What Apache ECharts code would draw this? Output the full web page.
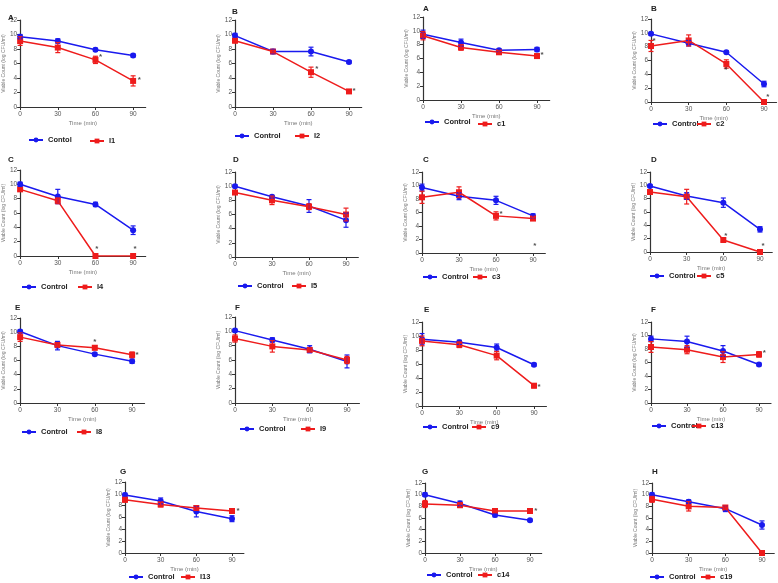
<!DOCTYPE html>
<html><head><meta charset="utf-8">
<script src="https://cdn.jsdelivr.net/npm/echarts@6/dist/echarts.min.js"></script>
<style>html,body{margin:0;padding:0;background:#fff}#c{width:778px;height:583px}</style>
</head><body><div id="c"></div>
<script>
// ---- data ----
const times = [0, 30, 60, 90];
const xTicks = [0, 30, 60, 90];
const yTicks = [0, 2, 4, 6, 8, 10, 12];
const panelLetters = ['A','B','A','B','C','D','C','D','E','F','E','F','G','G','H'];
const controlNames = ['Contol','Control','Control','Control','Control','Control','Control','Control','Control','Control','Control','Control','Control','Control','Control'];
const treatNames = ['I1','I2','c1','c2','I4','I5','c3','c5','I8','I9','c9','c13','I13','c14','c19'];
const controlValues = [
  [9.7, 9.1, 7.9, 7.1],
  [9.85, 7.65, 7.65, 6.2],
  [9.5, 8.3, 7.2, 7.3],
  [9.85, 8.5, 7.2, 2.6],
  [10.0, 8.3, 7.2, 3.6],
  [10.0, 8.5, 7.2, 5.2],
  [9.7, 8.4, 7.8, 5.5],
  [9.9, 8.4, 7.4, 3.4],
  [10.1, 8.1, 6.9, 5.9],
  [10.1, 8.8, 7.5, 5.8],
  [9.55, 9.1, 8.35, 5.9],
  [9.5, 9.1, 7.7, 5.7],
  [9.8, 8.8, 7.0, 5.8],
  [10.0, 8.5, 6.5, 5.6],
  [10.0, 8.8, 7.6, 4.8]
];
const treatValues = [
  [9.1, 8.2, 6.5, 3.6],
  [9.15, 7.65, 4.8, 2.15],
  [9.3, 7.6, 6.9, 6.35],
  [8.1, 8.9, 5.5, 0],
  [9.3, 7.7, 0, 0],
  [9.1, 8.0, 7.1, 6.0],
  [8.25, 9.0, 5.5, 5.1],
  [9.0, 8.3, 1.8, 0],
  [9.3, 8.2, 7.8, 6.8],
  [9.0, 7.9, 7.4, 6.0],
  [9.3, 8.75, 7.2, 2.9],
  [8.3, 7.9, 6.8, 7.2],
  [9.0, 8.2, 7.6, 7.1],
  [8.4, 8.2, 7.2, 7.2],
  [9.2, 8.0, 7.8, 0]
];
const controlErr = [
  [0.3,0.3,0.2,0.2],[0.3,0.3,0.6,0.2],[0.6,0.5,0.2,0.3],[0.2,0.4,0.2,0.4],
  [0.3,1.0,0.3,0.6],[0.2,0.2,0.9,1.0],[0.5,0.5,0.6,0.3],[0.2,0.5,0.7,0.4],
  [0.2,0.6,0.2,0.3],[0.2,0.3,0.5,0.9],[0.8,0.3,0.5,0.2],[0.4,0.8,0.8,0.2],
  [0.3,0.5,0.9,0.5],[0.3,0.4,0.3,0.2],[0.3,0.3,0.5,0.7]
];
const treatErr = [
  [0.6,0.7,0.5,0.7],[0.3,0.2,0.7,0.2],[0.6,0.4,0.2,0.3],[0.8,0.8,0.6,0.1],
  [0.2,0.4,0,0],[0.2,0.6,0.4,0.9],[0.9,0.8,0.6,0.2],[0.2,1.1,0.2,0],
  [0.6,0.3,0.3,0.4],[0.5,0.8,0.3,0.5],[0.7,0.4,0.6,0.3],[0.8,0.6,0.8,0.4],
  [0.4,0.4,0.4,0.2],[0.6,0.4,0.3,0.2],[0.5,0.8,0.3,0.2]
];
const starPoints = [
  [[64,6.9],[95,3.7]],
  [[64.5,5.3],[94,2.2]],
  [[94,6.5]],
  [[2.5,8.9],[59.5,4.7],[93,0.7]],
  [[61,1.0],[91.5,1.0]],
  [],
  [[64,5.8],[91.5,1.1]],
  [[62,2.4],[92.5,0.9]],
  [[60,8.7],[94,6.8]],
  [],
  [[94,2.8]],
  [[94.5,7.4]],
  [[95,7.2]],
  [[95,7.3]],
  []
];
// ---- layout: [x0, y12, x90, y0] ----
const geom = [
  [19,20,133,107],[235,20,349,107],[423,17,537,100],[651,19,764,102],
  [19,170,133,256],[235,172,346,257],[422,172,533,253],[650,172,760,252],
  [19,318,132,403],[235,317,347,403],[422,322,534,406],[651,322,759,403],
  [125,482,232,553],[425,483,530,553],[652,483,762,553]
];
const letterPos = [
  [3,9],[227,3],[418,0],[646,0],[3,151],[228,151],[418,151],[646,151],
  [10,299],[230,299],[419,301],[646,301],[115,463],[417,463],[647,463]
];
// legend: [blueLeft, blueY, redLeft, redY]
const legPos = [
  [28,140,89,141],[234,136,294,136],[424,122,477,124],[652,124,696,124],
  [21,287,77,287],[237,286,291,286],[422,277,472,277],[649,276,696,276],
  [21,432,76,432],[239,429,300,429],[422,427,471,427],[651,426,691,426],
  [128,577,180,577],[426,575,477,575],[649,577,700,577]
];

const BLUE = '#1a1aee', RED = '#ee1c1c';
const grids=[], xAxes=[], yAxes=[], series=[], titles=[], legends=[];

function errSeries(p, vals, errs, color){
  return {
    type:'custom', xAxisIndex:p, yAxisIndex:p, z:4, silent:true,
    data: times.map((t,i)=>[t, vals[i], errs[i]]),
    renderItem: function(params, api){
      const x=api.value(0), y=api.value(1), e=api.value(2);
      if(!e) return null;
      const top=api.coord([x, y+e]), bot=api.coord([x, Math.max(0,y-e)]);
      const w=2.5, st={stroke:color, lineWidth:1.2};
      return {type:'group', children:[
        {type:'line', shape:{x1:top[0],y1:top[1],x2:bot[0],y2:bot[1]}, style:st},
        {type:'line', shape:{x1:top[0]-w,y1:top[1],x2:top[0]+w,y2:top[1]}, style:st},
        {type:'line', shape:{x1:bot[0]-w,y1:bot[1],x2:bot[0]+w,y2:bot[1]}, style:st}
      ]};
    }
  };
}

geom.forEach((g,p)=>{
  const [x0,y12,x90,y0]=g;
  grids.push({left:x0, top:y12, width:(x90-x0)*100/90, height:y0-y12, containLabel:false});
  xAxes.push({
    gridIndex:p, type:'value', min:0, max:100,
    name:'Time (min)', nameLocation:'middle', nameGap:13,
    nameTextStyle:{fontSize:6, color:'#777', fontFamily:'Liberation Sans'},
    axisLine:{show:true, onZero:false, lineStyle:{color:'#333', width:1.2}},
    axisTick:{show:true, length:3, customValues:xTicks, lineStyle:{color:'#333'}},
    axisLabel:{customValues:xTicks, fontSize:6.5, color:'#555', margin:4, fontFamily:'Liberation Sans'},
    splitLine:{show:false}
  });
  yAxes.push({
    gridIndex:p, type:'value', min:0, max:12, interval:2,
    name:'Viable Count (log CFU/ml)', nameLocation:'middle', nameGap:10, nameRotate:90,
    nameTextStyle:{fontSize:5, color:'#777', fontFamily:'Liberation Sans'},
    axisLine:{show:true, lineStyle:{color:'#333', width:1.2}},
    axisTick:{show:true, length:3, lineStyle:{color:'#333'}},
    axisLabel:{fontSize:6.5, color:'#555', margin:3, fontFamily:'Liberation Sans',
      customValues: yTicks},
    splitLine:{show:false}
  });
  series.push({
    type:'line', name:controlNames[p], xAxisIndex:p, yAxisIndex:p, z:3,
    data: times.map((t,i)=>[t, controlValues[p][i]]),
    symbol:'circle', symbolSize:6, itemStyle:{color:BLUE}, lineStyle:{color:BLUE, width:1.5},
    animation:false
  });
  series.push({
    type:'line', name:treatNames[p], xAxisIndex:p, yAxisIndex:p, z:3,
    data: times.map((t,i)=>[t, treatValues[p][i]]),
    symbol:'rect', symbolSize:6, itemStyle:{color:RED}, lineStyle:{color:RED, width:1.5},
    animation:false
  });
  series.push(errSeries(p, controlValues[p], controlErr[p], BLUE));
  series.push(errSeries(p, treatValues[p], treatErr[p], RED));
  if(starPoints[p].length){
    series.push({
      type:'scatter', xAxisIndex:p, yAxisIndex:p, silent:true, z:5,
      data: starPoints[p], symbolSize:1, itemStyle:{color:'rgba(0,0,0,0)'},
      label:{show:true, formatter:'*', position:'inside', fontSize:8, fontWeight:'bold', color:'#222'}
    });
  }
  titles.push({text:panelLetters[p], left:letterPos[p][0], top:letterPos[p][1],
    textStyle:{fontSize:8, fontWeight:'bold', color:'#222', fontFamily:'Liberation Sans'}});
  const lp=legPos[p];
  legends.push({data:[controlNames[p]], left:lp[0], top:lp[1]-4, itemWidth:14, itemHeight:6, itemGap:4, padding:0,
    selectedMode:false, textStyle:{fontSize:7.5, fontWeight:'bold', color:'#222', fontFamily:'Liberation Sans'}});
  legends.push({data:[treatNames[p]], left:lp[2], top:lp[3]-4, itemWidth:14, itemHeight:6, itemGap:4, padding:0,
    selectedMode:false, textStyle:{fontSize:7.5, fontWeight:'bold', color:'#222', fontFamily:'Liberation Sans'}});
});

const chart = echarts.init(document.getElementById('c'), null, {renderer:'canvas'});
chart.setOption({
  animation:false, backgroundColor:'#fff',
  title:titles, legend:legends, grid:grids, xAxis:xAxes, yAxis:yAxes, series:series
});
</script></body></html>
